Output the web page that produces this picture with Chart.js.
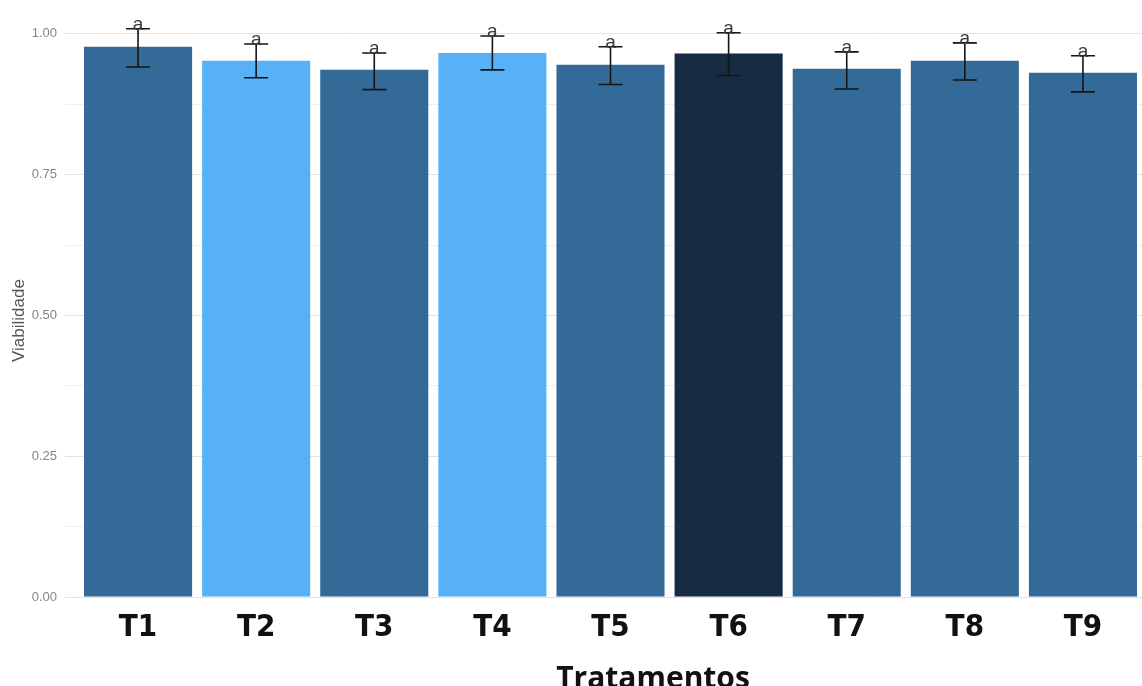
<!DOCTYPE html>
<html>
<head>
<meta charset="utf-8">
<script src="https://cdn.jsdelivr.net/npm/chart.js@4"></script>
<style>
  html, body { margin: 0; padding: 0; background: #ffffff; }
  #wrap { width: 1142px; height: 686px; position: relative; }
</style>
</head>
<body>
<div id="wrap"><canvas id="chart"></canvas></div>
<script>
// Treatments and mean viability
const categories = ['T1', 'T2', 'T3', 'T4', 'T5', 'T6', 'T7', 'T8', 'T9'];
const viabilidade = [0.977, 0.952, 0.936, 0.966, 0.945, 0.965, 0.938, 0.952, 0.931];
// Error bar limits
const errLower = [0.941, 0.922, 0.901, 0.936, 0.910, 0.926, 0.902, 0.918, 0.897];
const errUpper = [1.009, 0.982, 0.966, 0.996, 0.977, 1.002, 0.968, 0.984, 0.961];
// Significance letters (Tukey groups)
const letters = ['a', 'a', 'a', 'a', 'a', 'a', 'a', 'a', 'a'];
// Y axis tick values
const yTicks = [0, 0.25, 0.5, 0.75, 1.0];
const xTitle = 'Tratamentos';

const MID = '#336A98', LIGHT = '#56B1F7', DARK = '#172B43';
const barColors = [MID, LIGHT, MID, LIGHT, MID, DARK, MID, MID, MID];

// Draws the error bars and the group letters above them
const errorBars = {
  id: 'errorBars',
  afterDatasetsDraw(chart) {
    const { ctx } = chart;
    const x = chart.scales.x, y = chart.scales.y;
    ctx.save();
    ctx.strokeStyle = '#151515';
    ctx.lineWidth = 1.6;
    categories.forEach((c, i) => {
      const cx = x.getPixelForValue(i);
      const yLo = y.getPixelForValue(errLower[i]);
      const yHi = y.getPixelForValue(errUpper[i]);
      const hw = 12;
      ctx.beginPath();
      ctx.moveTo(cx, yLo); ctx.lineTo(cx, yHi);
      ctx.moveTo(cx - hw, yLo); ctx.lineTo(cx + hw, yLo);
      ctx.moveTo(cx - hw, yHi); ctx.lineTo(cx + hw, yHi);
      ctx.stroke();
      ctx.fillStyle = '#3a3a3a';
      ctx.font = '19px "Liberation Sans", Arial, sans-serif';
      ctx.textAlign = 'center';
      ctx.textBaseline = 'alphabetic';
      ctx.fillText(letters[i], cx, yHi + 1);
    });
    ctx.restore();
  }
};

// Bold axis title under the treatment labels
const bottomTitle = {
  id: 'bottomTitle',
  afterDraw(chart) {
    const { ctx, chartArea } = chart;
    ctx.save();
    ctx.fillStyle = '#111111';
    ctx.font = 'bold 30px "Open Sans", "Liberation Sans", sans-serif';
    ctx.textAlign = 'center';
    ctx.textBaseline = 'alphabetic';
    const cx = chartArea.left + (chartArea.right - chartArea.left) * 0.54;
    ctx.fillText(xTitle, cx, chart.height + 2);
    ctx.restore();
  }
};

new Chart(document.getElementById('chart'), {
  type: 'bar',
  data: {
    labels: categories,
    datasets: [{
      label: 'Viabilidade',
      data: viabilidade,
      backgroundColor: barColors,
      borderWidth: 0,
      barPercentage: 0.915,
      categoryPercentage: 1.0
    }]
  },
  options: {
    responsive: true,
    maintainAspectRatio: false,
    animation: false,
    layout: { padding: 0 },
    plugins: {
      legend: { display: false },
      tooltip: { enabled: false }
    },
    scales: {
      x: {
        offset: true,
        grid: { display: false, drawTicks: false },
        border: { display: false },
        ticks: {
          color: '#111111',
          padding: 12,
          font: { family: '"DejaVu Sans Condensed", sans-serif', size: 31, weight: 'bold' }
        },
        afterFit(scale) { scale.height = 89; }
      },
      y: {
        min: 0,
        max: 1.032,
        border: { display: false },
        afterBuildTicks(scale) {
          scale.ticks = scale.ticks.filter(t => t.value <= 1.0001);
        },
        ticks: {
          stepSize: 0.125,
          padding: 8,
          color: '#858585',
          font: { family: '"Liberation Sans", Arial, sans-serif', size: 13 },
          callback(v) {
            const hit = yTicks.find(t => Math.abs(t - v) < 1e-6);
            return hit === undefined ? '' : hit.toFixed(2);
          }
        },
        grid: {
          drawTicks: true,
          tickLength: 14,
          color(ctx) {
            const v = ctx.tick ? ctx.tick.value : 0;
            return yTicks.some(t => Math.abs(t - v) < 1e-6) ? '#e2e2e2' : '#efefef';
          },
          tickColor(ctx) {
            const v = ctx.tick ? ctx.tick.value : 0;
            return yTicks.some(t => Math.abs(t - v) < 1e-6) ? '#e2e2e2' : '#efefef';
          },
          lineWidth: 1
        },
        title: {
          display: true,
          text: 'Viabilidade      ',
          color: '#555555',
          font: { family: '"Liberation Sans", Arial, sans-serif', size: 17 },
          padding: { top: 9, bottom: 0 }
        },
        afterFit(scale) { scale.width = 79; }
      }
    }
  },
  plugins: [errorBars, bottomTitle]
});
</script>
</body>
</html>
